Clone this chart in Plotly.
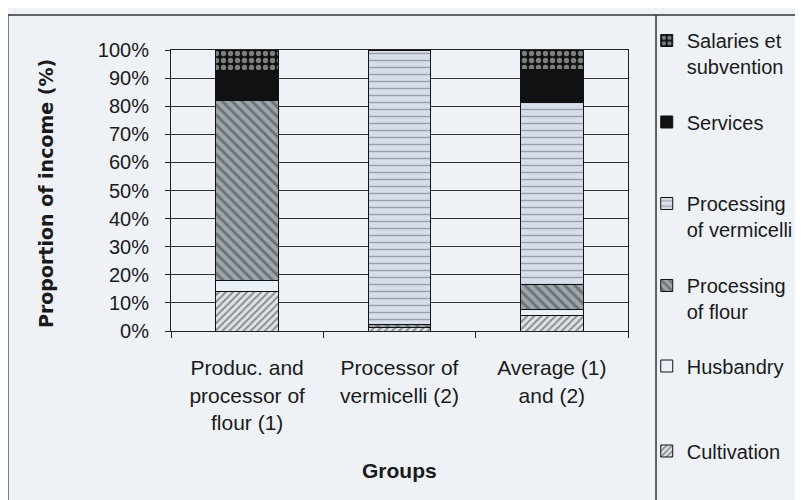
import plotly.graph_objects as go

categories = ["Produc. and<br>processor of<br>flour (1)",
              "Processor of<br>vermicelli (2)",
              "Average (1)<br>and (2)"]

cultivation = [14.0, 1.2, 5.6]
husbandry = [3.8, 0.2, 2.1]
proc_flour = [64.4, 0.8, 8.9]
proc_vermicelli = [0.0, 97.8, 64.6]
services = [10.4, 0.0, 11.7]
salaries = [7.4, 0.0, 7.1]

series_names = ["Cultivation", "Husbandry", "Processing<br>of flour",
                "Processing<br>of vermicelli", "Services", "Salaries et<br>subvention"]
series_values = [cultivation, husbandry, proc_flour, proc_vermicelli, services, salaries]

y_ticks = [0, 10, 20, 30, 40, 50, 60, 70, 80, 90, 100]
y_tick_labels = ["0%", "10%", "20%", "30%", "40%", "50%", "60%", "70%", "80%", "90%", "100%"]

FONT = "Liberation Sans, Arial, sans-serif"
BG = "#eef2f6"

styles = [
    dict(color="#dfe3e7", pattern=dict(shape="/", fgcolor="#30353a", bgcolor="#dfe3e7", size=5, solidity=0.4)),
    dict(color="#eaf0f7", pattern=dict(shape="")),
    dict(color="#8e979c", pattern=dict(shape="\\", fgcolor="#353b3f", bgcolor="#9ea6ab", size=7, solidity=0.4)),
    dict(color="#d6deeb", pattern=dict(shape="-", fgcolor="#59616b", bgcolor="#d6deeb", size=7, solidity=0.2)),
    dict(color="#111111", pattern=dict(shape="")),
    dict(color="#111111", pattern=dict(shape=".", fgcolor="#e6e9ec", bgcolor="#111111", size=7, solidity=0.45)),
]

legend_ids = ["legend6", "legend5", "legend4", "legend3", "legend2", "legend"]
legend_y = [-0.427, -0.1246, 0.1157, 0.4075, 0.7438, 0.9875]

fig = go.Figure()
for name, vals, st, lid in zip(series_names, series_values, styles, legend_ids):
    fig.add_trace(go.Bar(
        x=categories, y=vals, name=name, legend=lid,
        marker=dict(color=st["color"], pattern=st["pattern"],
                    line=dict(color="#111111", width=1)),
    ))

layout_legends = {}
for lid, ly in zip(legend_ids, legend_y):
    layout_legends[lid] = dict(
        x=1.041, xanchor="left", y=ly, yanchor="middle",
        bgcolor="rgba(0,0,0,0)", borderwidth=0, valign="top",
        font=dict(family=FONT, size=20, color="#1a1a1a"),
        itemclick=False, itemdoubleclick=False,
    )

# the page body has an 8px margin; the figure is sized to fill the rest
fig.update_layout(
    barmode="stack",
    bargap=0.59,
    width=795, height=492,
    margin=dict(l=163, r=175, t=42, b=169, autoexpand=False),
    paper_bgcolor=BG, plot_bgcolor=BG,
    font=dict(family=FONT, size=20, color="#1a1a1a"),
    showlegend=True,
    **layout_legends,
)

fig.update_xaxes(
    showline=True, linecolor="#222222", linewidth=1, mirror=True,
    ticks="outside", tickson="boundaries", ticklen=6, tickcolor="#222222",
    ticklabelstandoff=18,
    tickfont=dict(family=FONT, size=21, color="#1a1a1a"),
    showgrid=False, automargin=False,
)
fig.update_yaxes(
    range=[0, 100], tickmode="array", tickvals=y_ticks, ticktext=y_tick_labels,
    showline=True, linecolor="#222222", linewidth=1, mirror=True,
    ticks="outside", ticklen=5, tickcolor="#222222",
    ticklabelstandoff=12,
    tickfont=dict(family=FONT, size=20, color="#1a1a1a"),
    showgrid=True, gridcolor="#333333", gridwidth=1,
    zeroline=False, automargin=False,
)

fig.add_annotation(text="<b>Proportion of income (%)</b>", textangle=-90,
                   xref="paper", yref="paper", x=-0.272, y=0.49,
                   xanchor="center", yanchor="middle", showarrow=False,
                   font=dict(family="DejaVu Sans, sans-serif", size=19, color="#1a1a1a"))
fig.add_annotation(text="<b>Groups</b>",
                   xref="paper", yref="paper", x=0.5, y=-0.495,
                   xanchor="center", yanchor="middle", showarrow=False,
                   font=dict(family=FONT, size=21, color="#1a1a1a"))

# outer frame and legend divider
fig.add_shape(type="rect", xref="paper", yref="paper",
              x0=-0.357, x1=1.4, y0=-0.65, y1=1.1246,
              line=dict(color="#333333", width=1.5), layer="below")
fig.add_shape(type="line", xref="paper", yref="paper",
              x0=1.0613, x1=1.0613, y0=-0.65, y1=1.1246,
              line=dict(color="#333333", width=1.5))

fig.write_html("out.html")
